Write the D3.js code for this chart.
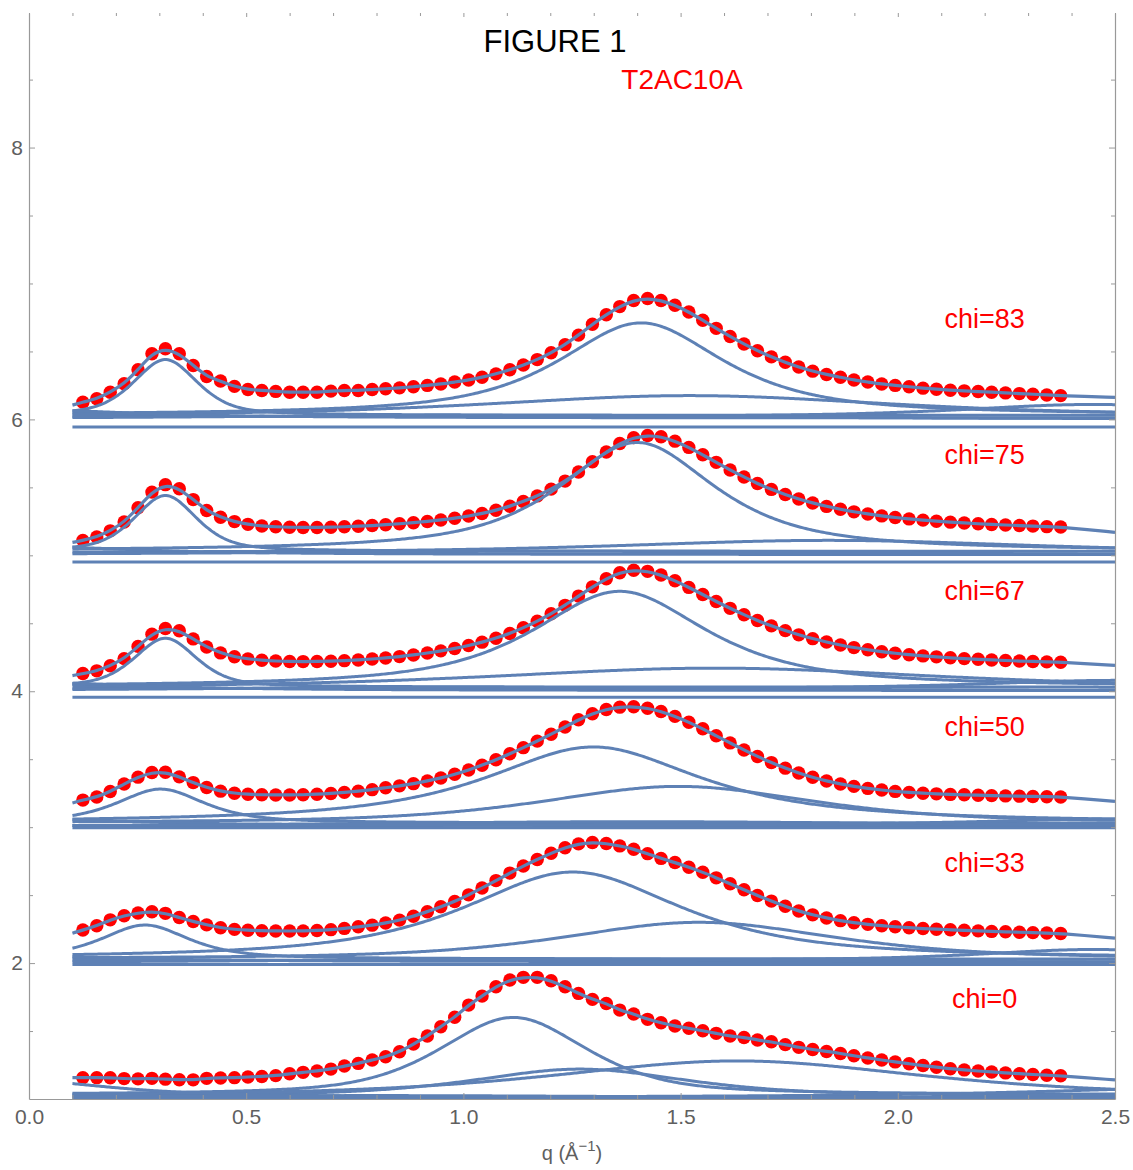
<!DOCTYPE html>
<html>
<head>
<meta charset="utf-8">
<script src="https://cdn.jsdelivr.net/npm/d3@7"></script>
<style>
  html, body { margin: 0; padding: 0; background: #fff; }
  svg { display: block; font-family: Arial, "Liberation Sans", sans-serif; }
</style>
</head>
<body>
<svg id="chart" width="1133" height="1170"></svg>
<script>
// Scattering vector values of the measured points
const qValues = [0.124,0.156,0.187,0.219,0.251,0.283,0.314,0.346,0.378,0.409,0.441,0.473,0.504,0.536,0.568,0.600,
  0.631,0.663,0.695,0.726,0.758,0.790,0.821,0.853,0.885,0.917,0.948,0.980,1.012,1.043,1.075,1.107,1.138,1.170,
  1.202,1.234,1.265,1.297,1.329,1.360,1.392,1.424,1.455,1.487,1.519,1.551,1.582,1.614,1.646,1.677,1.709,1.741,
  1.772,1.804,1.836,1.868,1.899,1.931,1.963,1.994,2.026,2.058,2.089,2.121,2.153,2.185,2.216,2.248,2.280,2.311,
  2.343,2.375];

const chiLabels = ["chi=0", "chi=33", "chi=50", "chi=67", "chi=75", "chi=83"];
const offsets = [1, 2, 3, 4, 5, 6];

// Normalised intensities (before the vertical offset)
const intensityChi0 = [0.157,0.157,0.156,0.150,0.148,0.152,0.146,0.142,0.141,0.152,0.155,0.157,0.162,0.166,0.172,0.186,
  0.196,0.206,0.220,0.243,0.262,0.287,0.311,0.348,0.404,0.463,0.532,0.601,0.691,0.757,0.826,0.875,0.895,0.895,
  0.870,0.826,0.777,0.733,0.703,0.654,0.625,0.586,0.561,0.537,0.520,0.502,0.483,0.463,0.453,0.434,0.421,0.400,
  0.380,0.364,0.350,0.335,0.318,0.302,0.287,0.273,0.259,0.246,0.234,0.223,0.214,0.206,0.199,0.192,0.186,0.180,
  0.175,0.171];
const intensityChi33 = [0.243,0.275,0.318,0.348,0.368,0.378,0.366,0.335,0.306,0.281,0.260,0.248,0.242,0.238,0.236,0.236,
  0.237,0.240,0.246,0.255,0.267,0.279,0.295,0.316,0.345,0.378,0.414,0.453,0.502,0.552,0.607,0.662,0.714,0.762,
  0.808,0.848,0.877,0.887,0.880,0.862,0.838,0.805,0.770,0.740,0.705,0.668,0.627,0.584,0.540,0.497,0.456,0.418,
  0.383,0.355,0.332,0.312,0.297,0.285,0.275,0.267,0.260,0.254,0.249,0.245,0.241,0.237,0.233,0.230,0.227,0.224,
  0.221,0.218];
const intensityChi50 = [0.199,0.222,0.262,0.318,0.368,0.402,0.404,0.370,0.328,0.292,0.265,0.250,0.242,0.238,0.237,0.237,
  0.238,0.242,0.248,0.256,0.265,0.276,0.290,0.304,0.320,0.340,0.362,0.389,0.420,0.456,0.496,0.540,0.585,0.633,
  0.684,0.737,0.790,0.834,0.866,0.883,0.886,0.875,0.851,0.815,0.772,0.724,0.672,0.620,0.568,0.520,0.475,0.434,
  0.398,0.367,0.340,0.318,0.300,0.285,0.273,0.263,0.256,0.250,0.245,0.241,0.238,0.235,0.232,0.230,0.228,0.226,
  0.224,0.222];
const intensityChi67 = [0.130,0.150,0.188,0.240,0.330,0.420,0.462,0.445,0.385,0.325,0.282,0.254,0.238,0.228,0.222,0.219,
  0.218,0.219,0.221,0.225,0.230,0.237,0.245,0.255,0.267,0.281,0.297,0.315,0.336,0.361,0.390,0.425,0.467,0.515,
  0.570,0.632,0.700,0.768,0.828,0.872,0.890,0.882,0.855,0.813,0.764,0.712,0.660,0.610,0.563,0.520,0.481,0.446,
  0.415,0.387,0.362,0.340,0.321,0.305,0.291,0.279,0.269,0.260,0.253,0.246,0.240,0.235,0.230,0.226,0.222,0.219,
  0.216,0.213];
const intensityChi75 = [0.110,0.135,0.180,0.245,0.350,0.465,0.520,0.490,0.410,0.330,0.280,0.248,0.228,0.216,0.210,0.206,
  0.205,0.205,0.207,0.210,0.214,0.219,0.225,0.232,0.240,0.249,0.260,0.273,0.289,0.308,0.332,0.361,0.396,0.437,
  0.487,0.546,0.613,0.688,0.760,0.823,0.866,0.882,0.872,0.840,0.794,0.740,0.684,0.628,0.576,0.528,0.485,0.447,
  0.414,0.385,0.360,0.339,0.320,0.304,0.290,0.278,0.268,0.259,0.251,0.244,0.238,0.232,0.227,0.223,0.219,0.215,
  0.211,0.208];
const intensityChi83 = [0.127,0.152,0.200,0.262,0.365,0.483,0.520,0.483,0.397,0.316,0.282,0.243,0.220,0.213,0.206,0.200,
  0.200,0.200,0.208,0.213,0.213,0.220,0.225,0.232,0.240,0.250,0.260,0.275,0.290,0.310,0.335,0.365,0.400,0.440,
  0.490,0.550,0.620,0.700,0.770,0.830,0.875,0.890,0.875,0.840,0.790,0.730,0.670,0.610,0.555,0.505,0.460,0.420,
  0.385,0.355,0.330,0.310,0.290,0.275,0.260,0.250,0.240,0.230,0.222,0.215,0.210,0.205,0.200,0.195,0.190,0.185,
  0.180,0.175];

// Fitted total at the two ends of the fit range (q = 0.1 and q = 2.5)
const fitStart = [0.157, 0.220, 0.178, 0.115, 0.095, 0.105];
const fitEnd   = [0.140, 0.184, 0.190, 0.191, 0.169, 0.162];

// Fit components: [centre, height, half width, Lorentzian fraction, baseline]
const peaksChi0 = [
  [1.115, 0.57, 0.20, 0.55, 0.03],
  [1.268, 0.20, 0.29, 0.60, 0.02],
  [1.630, 0.26, 0.50, 0.60, 0.02],
  [0.000, 0.12, 0.25, 1.00, 0.01],
  [2.700, 0.07, 0.50, 1.00, 0.01],
  [0.800, 0.02, 0.80, 1.00, 0.005],
  [1.250, 0.00, 1.00, 1.00, 0.00]
];
const peaksChi33 = [
  [0.267, 0.25, 0.12, 0.70, 0.03],
  [1.252, 0.64, 0.30, 0.80, 0.03],
  [1.542, 0.27, 0.37, 0.60, 0.03],
  [2.450, 0.08, 0.30, 0.60, 0.02],
  [0.000, 0.04, 0.30, 1.00, 0.01],
  [1.200, 0.03, 0.80, 1.00, 0.00],
  [1.250, 0.00, 1.00, 1.00, -0.01]
];
const peaksChi50 = [
  [0.303, 0.25, 0.12, 0.70, 0.03],
  [1.299, 0.56, 0.30, 0.90, 0.03],
  [1.495, 0.27, 0.37, 0.60, 0.03],
  [0.000, 0.05, 0.30, 1.00, 0.01],
  [1.400, 0.04, 0.90, 1.00, 0.00],
  [2.500, 0.05, 0.40, 1.00, 0.01],
  [1.250, 0.00, 1.00, 1.00, -0.005]
];
const peaksChi67 = [
  [0.314, 0.36, 0.085, 0.50, 0.03],
  [1.360, 0.705, 0.24, 0.80, 0.03],
  [1.580, 0.145, 0.60, 0.60, 0.025],
  [2.500, 0.06, 0.35, 0.60, 0.02],
  [0.000, 0.06, 0.30, 1.00, 0.005],
  [1.000, 0.03, 0.80, 1.00, 0.00],
  [1.250, 0.00, 1.00, 1.00, -0.045]
];
const peaksChi75 = [
  [0.314, 0.41, 0.085, 0.50, 0.03],
  [1.400, 0.80, 0.215, 0.80, 0.03],
  [1.840, 0.09, 0.55, 0.60, 0.02],
  [0.000, 0.06, 0.30, 1.00, 0.005],
  [1.200, 0.03, 0.90, 1.00, 0.00],
  [1.250, 0.00, 1.00, 1.00, -0.05]
];
const peaksChi83 = [
  [0.314, 0.41, 0.087, 0.50, 0.03],
  [1.409, 0.68, 0.227, 0.80, 0.03],
  [1.520, 0.15, 0.55, 0.60, 0.025],
  [2.450, 0.09, 0.35, 0.60, 0.02],
  [0.000, 0.06, 0.30, 1.00, 0.01],
  [1.000, 0.03, 0.80, 1.00, 0.00],
  [1.250, 0.00, 1.00, 1.00, -0.055]
];

const intensities = [intensityChi0, intensityChi33, intensityChi50, intensityChi67, intensityChi75, intensityChi83];
const peakSets = [peaksChi0, peaksChi33, peaksChi50, peaksChi67, peaksChi75, peaksChi83];

const xMajorTicks = [0, 0.5, 1.0, 1.5, 2.0, 2.5];
const xTickLabels = ["0.0", "0.5", "1.0", "1.5", "2.0", "2.5"];
const yMajorTicks = [2, 4, 6, 8];
const yTickLabels = ["2", "4", "6", "8"];
const fitRange = [0.1, 2.5];

// ---- layout ----
const svg = d3.select("#chart");
const plotLeft = 29, plotRight = 1115, plotTop = 13, plotBottom = 1099;
const x = d3.scaleLinear().domain([0, 2.5]).range([plotLeft, plotRight]);
const y = d3.scaleLinear().domain([1, 8.99]).range([plotBottom, plotTop]);

const blue = "#5e81b5";
const frameColor = "#999999";
const labelColor = "#5f5f5f";

svg.append("rect").attr("width", 1133).attr("height", 1170).attr("fill", "#fff");

svg.append("clipPath").attr("id", "plotClip")
  .append("rect").attr("x", plotLeft).attr("y", plotTop)
  .attr("width", plotRight - plotLeft).attr("height", plotBottom - plotTop);

const plot = svg.append("g").attr("clip-path", "url(#plotClip)");

// pseudo-Voigt profile for one fit component
function profile(q, p) {
  const [c, h, w, eta, b] = p;
  const u = (q - c) / w;
  return b + h * (eta / (1 + u * u) + (1 - eta) * Math.exp(-Math.LN2 * u * u));
}

const sampleQ = d3.range(fitRange[0], fitRange[1] + 1e-9, 0.004);

// measured points (drawn underneath the fitted curves)
intensities.forEach((vals, i) => {
  plot.append("g").selectAll("circle")
    .data(vals.map((v, k) => [qValues[k], v + offsets[i]]))
    .join("circle")
    .attr("cx", d => x(d[0]))
    .attr("cy", d => y(d[1]))
    .attr("r", 6.7)
    .attr("fill", "#ff0000");
});

// fit components
peakSets.forEach((peaks, i) => {
  peaks.forEach(p => {
    plot.append("path")
      .datum(sampleQ.map(q => [q, profile(q, p) + offsets[i]]))
      .attr("fill", "none")
      .attr("stroke", blue)
      .attr("stroke-width", 3)
      .attr("d", d3.line().x(d => x(d[0])).y(d => y(d[1])));
  });
});

// total fitted curve
intensities.forEach((vals, i) => {
  const pts = [[fitRange[0], fitStart[i] + offsets[i]]]
    .concat(vals.map((v, k) => [qValues[k], v + offsets[i]]))
    .concat([[fitRange[1], fitEnd[i] + offsets[i]]]);
  plot.append("path")
    .datum(pts)
    .attr("fill", "none")
    .attr("stroke", blue)
    .attr("stroke-width", 3.2)
    .attr("d", d3.line().curve(d3.curveBasis).x(d => x(d[0])).y(d => y(d[1])));
});

// ---- frame and ticks ----
const xMinor = d3.range(0, 2.5001, 0.1).filter(v => Math.abs(v * 2 - Math.round(v * 2)) > 1e-6);
const yMinor = d3.range(1.5, 8.9, 0.5).filter(v => !yMajorTicks.includes(v));

function styleAxis(g) {
  g.selectAll("path.domain").attr("stroke", frameColor).attr("stroke-width", 1.2);
  g.selectAll(".tick line").attr("stroke", frameColor).attr("stroke-width", 1);
  g.selectAll(".tick text").attr("fill", labelColor).attr("font-size", 21)
    .attr("font-family", "Arial, 'Liberation Sans', sans-serif");
}

// bottom
const gb = svg.append("g").attr("transform", `translate(0,${plotBottom})`)
  .call(d3.axisBottom(x).tickValues(xMajorTicks).tickFormat((d, i) => xTickLabels[i])
    .tickSizeInner(-6).tickSizeOuter(0).tickPadding(10));
styleAxis(gb);
const gbm = svg.append("g").attr("transform", `translate(0,${plotBottom})`)
  .call(d3.axisBottom(x).tickValues(xMinor).tickFormat("").tickSizeInner(-4).tickSizeOuter(0));
gbm.select("path.domain").remove();
styleAxis(gbm);

// top (ticks only)
const gt = svg.append("g").attr("transform", `translate(0,${plotTop})`)
  .call(d3.axisTop(x).tickValues(xMajorTicks).tickFormat("").tickSizeInner(-4).tickSizeOuter(0));
gt.select("path.domain").remove();
styleAxis(gt);
const gtm = svg.append("g").attr("transform", `translate(0,${plotTop})`)
  .call(d3.axisTop(x).tickValues(xMinor).tickFormat("").tickSizeInner(-3).tickSizeOuter(0));
gtm.select("path.domain").remove();
styleAxis(gtm);

// left
const gl = svg.append("g").attr("transform", `translate(${plotLeft},0)`)
  .call(d3.axisLeft(y).tickValues(yMajorTicks).tickFormat((d, i) => yTickLabels[i])
    .tickSizeInner(-6).tickSizeOuter(0).tickPadding(6));
styleAxis(gl);
const glm = svg.append("g").attr("transform", `translate(${plotLeft},0)`)
  .call(d3.axisLeft(y).tickValues(yMinor).tickFormat("").tickSizeInner(-4).tickSizeOuter(0));
glm.select("path.domain").remove();
styleAxis(glm);

// right
const gr = svg.append("g").attr("transform", `translate(${plotRight},0)`)
  .call(d3.axisRight(y).tickValues(yMajorTicks).tickFormat("").tickSizeInner(-6).tickSizeOuter(0));
styleAxis(gr);
const grm = svg.append("g").attr("transform", `translate(${plotRight},0)`)
  .call(d3.axisRight(y).tickValues(yMinor).tickFormat("").tickSizeInner(-4).tickSizeOuter(0));
grm.select("path.domain").remove();
styleAxis(grm);

// axis title
const xt = svg.append("text")
  .attr("x", x(1.25)).attr("y", 1160)
  .attr("text-anchor", "middle")
  .attr("fill", labelColor)
  .attr("font-size", 20);
xt.append("tspan").text("q (Å");
xt.append("tspan").attr("dy", -9).attr("font-size", 15).text("−1");
xt.append("tspan").attr("dy", 9).text(")");

// titles
svg.append("text")
  .attr("x", 555).attr("y", 52)
  .attr("text-anchor", "middle")
  .attr("font-size", 31)
  .attr("fill", "#000")
  .text("FIGURE 1");
svg.append("text")
  .attr("x", 682).attr("y", 89)
  .attr("text-anchor", "middle")
  .attr("font-size", 28)
  .attr("fill", "#ff0000")
  .text("T2AC10A");

// curve labels
chiLabels.forEach((lab, i) => {
  svg.append("text")
    .attr("x", x(2.2)).attr("y", y(offsets[i] + 0.67))
    .attr("text-anchor", "middle")
    .attr("font-size", 27)
    .attr("fill", "#ff0000")
    .text(lab);
});
</script>
</body>
</html>
